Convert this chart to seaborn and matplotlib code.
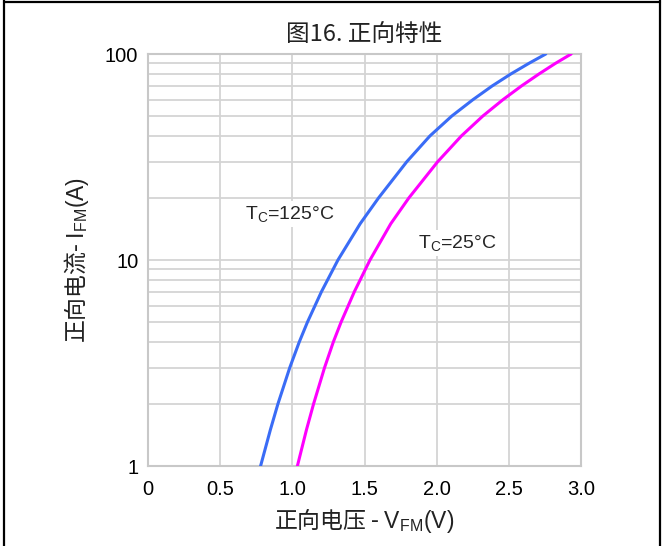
import numpy as np
import pandas as pd
import seaborn as sns
import matplotlib.pyplot as plt
from matplotlib.lines import Line2D
from matplotlib.ticker import FixedLocator, LogLocator, NullFormatter

# values
v_125 = [0.78, 0.848, 0.900, 0.982, 1.048, 1.105, 1.201, 1.316, 1.470, 1.597, 1.793, 1.953,
         2.105, 2.251, 2.385, 2.514, 2.638, 2.756]
i_125 = [1, 1.5, 2, 3, 4, 5, 7, 10, 15, 20, 30, 40, 50, 60, 70, 80, 90, 100]
v_25 = [1.035, 1.098, 1.147, 1.223, 1.284, 1.338, 1.429, 1.538, 1.682, 1.807, 2.007, 2.171,
        2.320, 2.459, 2.588, 2.709, 2.822, 2.932]
i_25 = [1, 1.5, 2, 3, 4, 5, 7, 10, 15, 20, 30, 40, 50, 60, 70, 80, 90, 100]

x_ticks = [0, 0.5, 1.0, 1.5, 2.0, 2.5, 3.0]
x_tick_labels = ['0', '0.5', '1.0', '1.5', '2.0', '2.5', '3.0']
y_ticks = [1, 10, 100]
y_tick_labels = ['1', '10', '100']

title = '图16. 正向特性'
x_label = '正向电压 - $\\mathrm{V_{FM}(V)}$'
y_label = '正向电流- $\\mathrm{I_{FM}(A)}$'
label_125 = '$\\mathrm{T_C}$=125°C'
label_25 = '$\\mathrm{T_C}$=25°C'

sns.set_style('white')
plt.rcParams['font.family'] = ['Liberation Sans', 'Noto Sans CJK SC', 'DejaVu Sans']
plt.rcParams['mathtext.fontset'] = 'custom'
plt.rcParams['mathtext.rm'] = 'Liberation Sans'
plt.rcParams['mathtext.it'] = 'Liberation Sans'

df_125 = pd.DataFrame({'V': v_125, 'I': i_125})
df_25 = pd.DataFrame({'V': v_25, 'I': i_25})

fig = plt.figure(figsize=(6.63, 5.46), dpi=100)
ax = fig.add_axes([148 / 663, 80 / 546, 433 / 663, 412 / 546])

grid_c = '#d4d4d4'
sns.lineplot(data=df_125, x='V', y='I', ax=ax, color='#3a6cf6', linewidth=2.2, sort=False, zorder=3)
sns.lineplot(data=df_25, x='V', y='I', ax=ax, color='#ff00ff', linewidth=2.2, sort=False, zorder=3)

ax.set_yscale('log')
ax.set_xlim(0, 3.0)
ax.set_ylim(1, 100)
ax.xaxis.set_major_locator(FixedLocator(x_ticks))
ax.set_xticklabels(x_tick_labels)
ax.yaxis.set_major_locator(FixedLocator(y_ticks))
ax.set_yticklabels(y_tick_labels)
ax.yaxis.set_minor_locator(LogLocator(base=10, subs=np.arange(2, 10)))
ax.yaxis.set_minor_formatter(NullFormatter())

ax.grid(True, which='both', color=grid_c, linewidth=1.3)
ax.set_axisbelow(True)
for s in ax.spines.values():
    s.set_color('#c8c8c8')
    s.set_linewidth(1.5)

ax.tick_params(axis='both', which='both', length=0, labelsize=14.5, colors='black')
ax.tick_params(axis='x', pad=10)
ax.tick_params(axis='y', pad=7)

cjk = ['Noto Sans CJK SC', 'Liberation Sans']
ax.set_xlabel(x_label, fontsize=16.5, color='#222222', labelpad=5, family=cjk)
ax.set_ylabel(y_label, fontsize=16.5, color='#222222', labelpad=10, family=cjk)
ax.set_title(title, fontsize=17, color='#222222', pad=9, family=cjk)

box = dict(facecolor='white', edgecolor='none', pad=2)
ax.text(0.67, 16.7, label_125, fontsize=14, va='center', ha='left', bbox=box, zorder=2)
ax.text(1.87, 12.1, label_25, fontsize=14, va='center', ha='left', bbox=box, zorder=2)

# outer frame of the source document
for xs, ys in [([4 / 663, 4 / 663], [0, 1]), ([660 / 663, 660 / 663], [0, 1]),
               ([4 / 663, 660 / 663], [1 - 2 / 546, 1 - 2 / 546])]:
    fig.add_artist(Line2D(xs, ys, color='black', linewidth=1.6, transform=fig.transFigure))

fig.savefig('out.png', dpi=100)
